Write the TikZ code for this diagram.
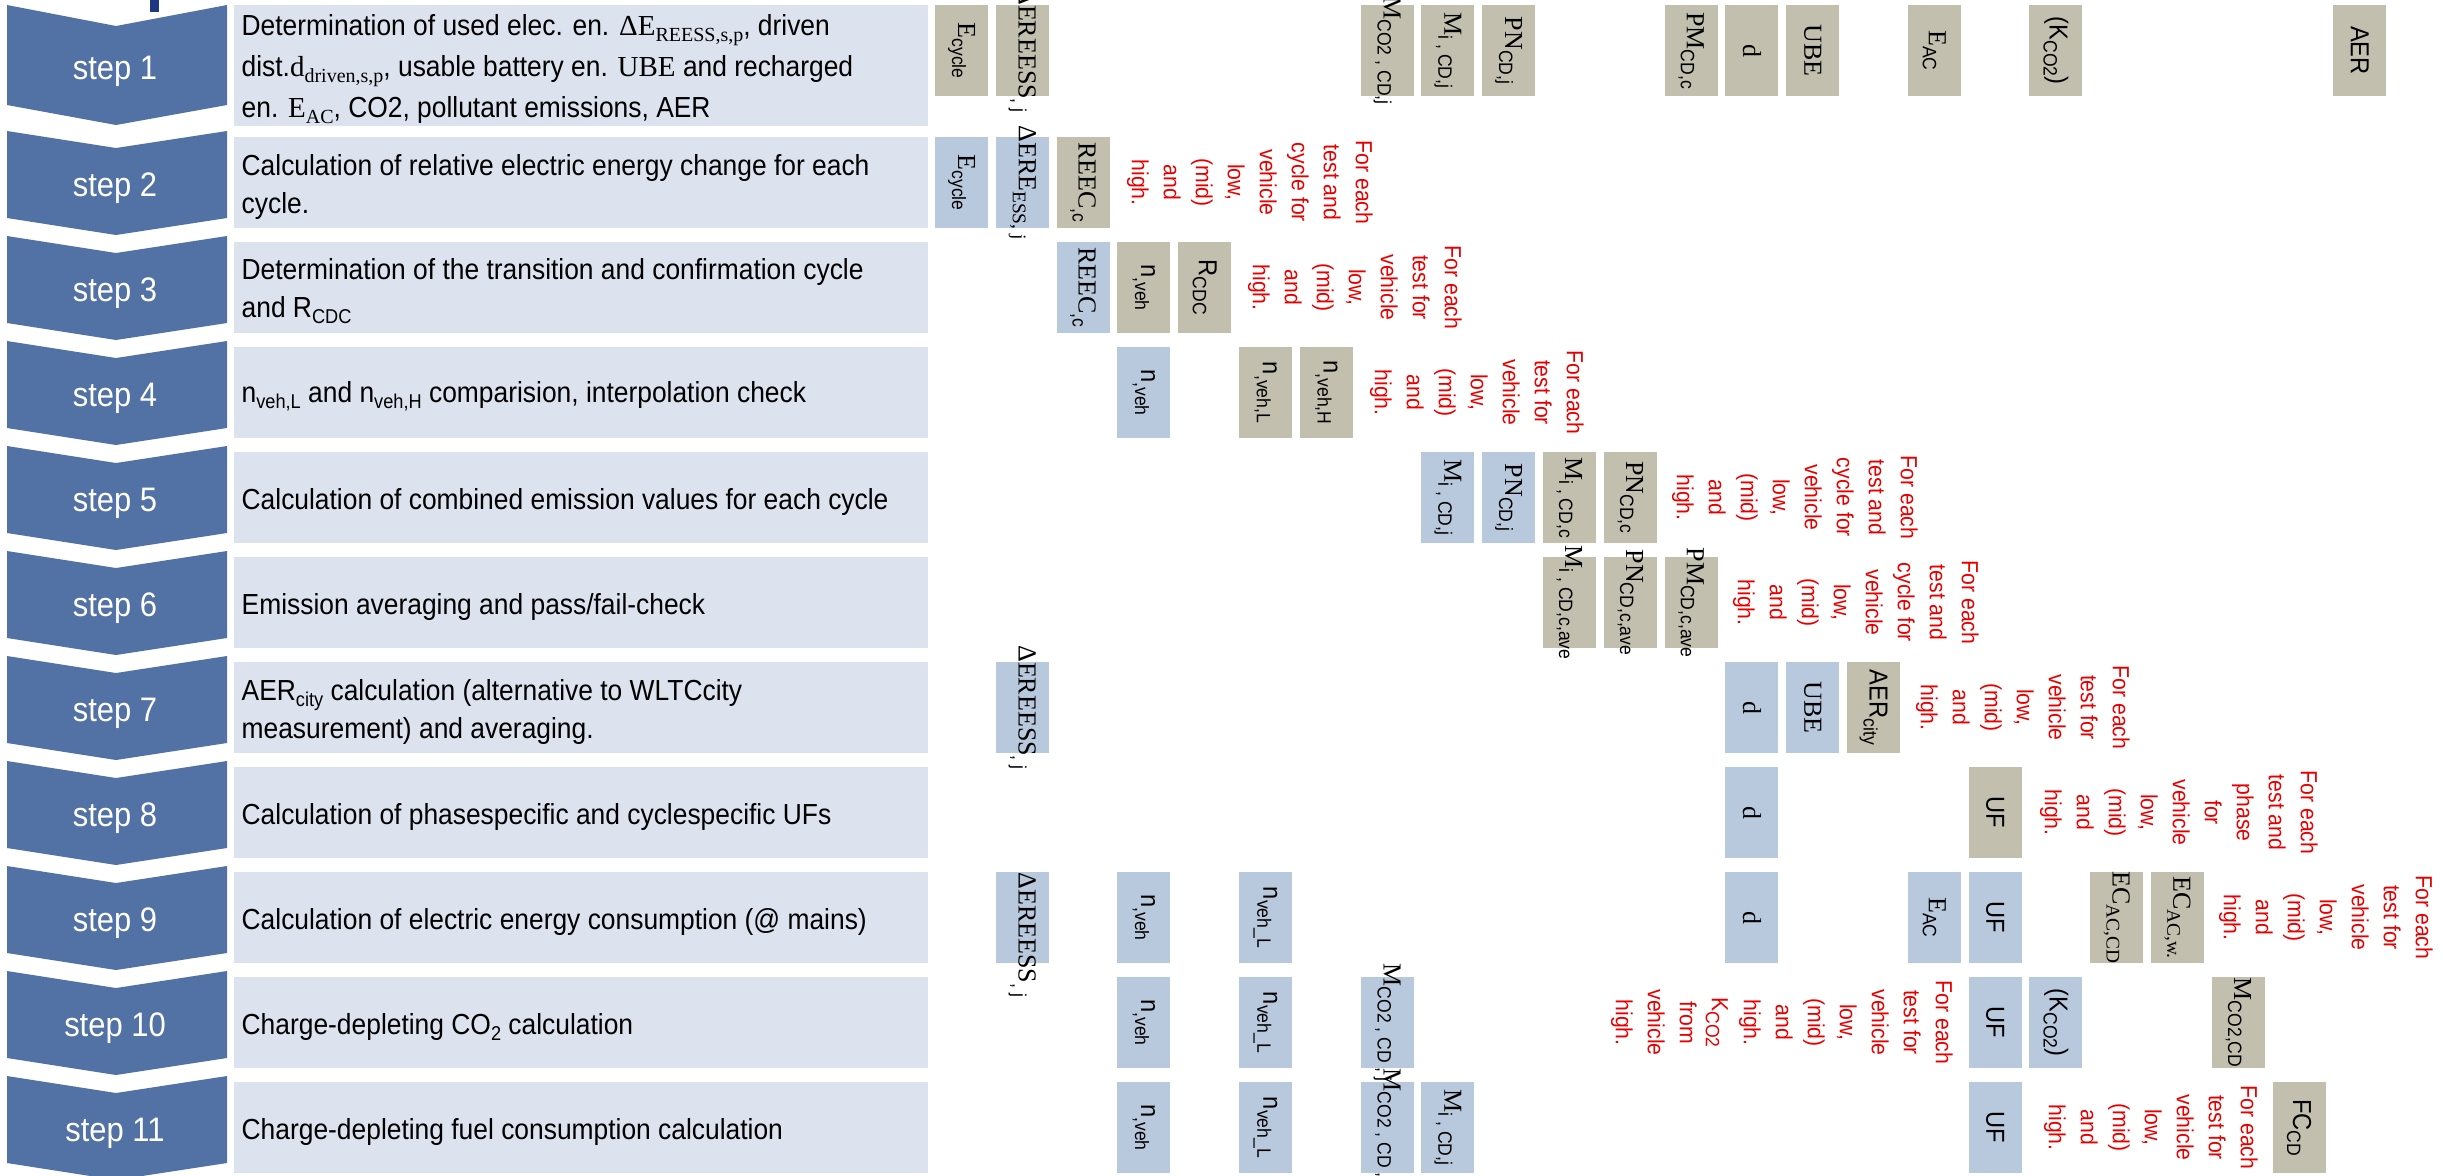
\documentclass[tikz,border=0pt]{standalone}
\usepackage{fontspec}
\setmainfont{Liberation Serif}
\newfontfamily\sansn[FakeStretch=0.91]{Liberation Sans}
\newfontfamily\serifn{Liberation Serif}
\definecolor{stepc}{RGB}{82,114,165}
\definecolor{rowc}{RGB}{220,227,238}
\definecolor{tanc}{RGB}{194,191,174}
\definecolor{bluec}{RGB}{185,201,221}
\definecolor{redc}{RGB}{232,0,0}
\definecolor{navyc}{RGB}{31,56,130}
\newcommand{\lsub}[1]{\raisebox{-1.8pt}{\fontsize{5.8}{5.8}\selectfont #1}}
\newcommand{\tsub}[1]{\raisebox{-1.8pt}{\fontsize{6}{6}\selectfont #1}}
\newcommand{\notecycle}{For each\\test and\\cycle for\\vehicle\\low,\\(mid)\\and\\high.}
\newcommand{\notetest}{For each\\test for\\vehicle\\low,\\(mid)\\and\\high.}
\newcommand{\putcell}[5]{%
  \node[#1] (#2) at ({961.5+60.8*#3},{ifthenelse(#4==1,50.5,182.5+105*(#4-2))}) {};
  \node[cellfont] (#2l) at (#2) {#5};}
\tikzset{
  boxcell/.style={minimum width=15.9pt,minimum height=27.3pt,inner sep=0pt,outer sep=0pt},
  tancell/.style={boxcell,fill=tanc},
  bluecell/.style={boxcell,fill=bluec},
  cellfont/.style={rotate=-90,inner sep=0pt,font=\sansn\fontsize{7.8}{7.8}\selectfont},
  rednote/.style={rotate=-90,inner sep=0pt,align=center,text=redc,font=\sansn\fontsize{7}{9.6}\selectfont},
  rowbox/.style={fill=rowc,minimum width=208.2pt,minimum height=27.3pt,inner sep=0pt},
  rowtext/.style={anchor=west,align=left,inner sep=0pt,yshift=-1.2pt,font=\sansn\fontsize{8.7}{11.4}\selectfont},
  steplabel/.style={anchor=base,text=white,inner sep=0pt,font=\sansn\fontsize{10.2}{10.2}\selectfont}
}

\begin{document}
\begin{tikzpicture}[x=0.3pt,y=-0.3pt]
\clip (0,0) rectangle (2443,1175);
\fill[white] (0,0) rectangle (2443,1175);
\fill[navyc] (150,0) rectangle (159,12);

\fill[stepc] (7,5) -- (116,26) -- (227,5) -- (227,105) -- (116,125) -- (7,105) -- cycle;
\foreach \r in {2,...,11}{
  \pgfmathsetmacro\T{131+105*(\r-2)}
  \fill[stepc] (7,\T) -- (116,\T+17) -- (227,\T) -- (227,\T+87) -- (116,\T+104) -- (7,\T+87) -- cycle;
}
\foreach \r in {1,...,11}{
  \pgfmathsetmacro\Y{ifthenelse(\r==1,65.5,182.5+105*(\r-2))+14}
  \node[steplabel] (s\r) at (115,\Y) {step \r};
}

\node[rowbox,minimum height=36.3pt] (b1) at (581,65.5) {};
\foreach \r in {2,...,11}
  \node[rowbox] (b\r) at (581,{182.5+105*(\r-2)}) {};

\node[rowtext,font=\sansn\fontsize{8.7}{12.3}\selectfont] (txt1) at (241,65.5) {Determination of used elec. en. {\serifn ΔE\tsub{REESS,s,p}}, driven\\dist.{\serifn d\tsub{driven,s,p}}, usable battery en. {\serifn UBE} and recharged\\en. {\serifn E\tsub{AC}}, CO2, pollutant emissions, AER};
\node[rowtext] (txt2) at (241,182.5) {Calculation of relative electric energy change for each\\cycle.};
\node[rowtext] (txt3) at (241,287.5) {Determination of the transition and confirmation cycle\\and R\tsub{CDC}};
\node[rowtext] (txt4) at (241,392.5) {n\tsub{veh,L} and n\tsub{veh,H} comparision, interpolation check};
\node[rowtext] (txt5) at (241,497.5) {Calculation of combined emission values for each cycle};
\node[rowtext] (txt6) at (241,602.5) {Emission averaging and pass/fail-check};
\node[rowtext] (txt7) at (241,707.5) {AER\tsub{city} calculation (alternative to WLTCcity\\measurement) and averaging.};
\node[rowtext] (txt8) at (241,812.5) {Calculation of phasespecific and cyclespecific UFs};
\node[rowtext] (txt9) at (241,917.5) {Calculation of electric energy consumption (@ mains)};
\node[rowtext] (txt10) at (241,1022.5) {Charge-depleting CO\tsub{2} calculation};
\node[rowtext] (txt11) at (241,1127.5) {Charge-depleting fuel consumption calculation};

\putcell{tancell}{ecyc1}{0}{1}{{\serifn E}\lsub{cycle}}
\putcell{tancell}{dee1}{1}{1}{{\serifn ΔEREESS}\lsub{, j}}
\putcell{tancell}{mco1}{7}{1}{{\serifn M}\lsub{CO2 , CD,j}}
\putcell{tancell}{mi1}{8}{1}{{\serifn M}\lsub{i , CD,j}}
\putcell{tancell}{pn1}{9}{1}{{\serifn PN}\lsub{CD,j}}
\putcell{tancell}{pm1}{12}{1}{{\serifn PM}\lsub{CD,c}}
\putcell{tancell}{d1}{13}{1}{{\serifn d}}
\putcell{tancell}{ube1}{14}{1}{{\serifn UBE}}
\putcell{tancell}{eac1}{16}{1}{{\serifn E}\lsub{AC}}
\putcell{tancell}{kco1}{18}{1}{(K\lsub{CO2})}
\putcell{tancell}{aer1}{23}{1}{AER}

\putcell{bluecell}{ecyc2}{0}{2}{{\serifn E}\lsub{cycle}}
\putcell{bluecell}{dee2}{1}{2}{{\serifn ΔERE\lsub{ESS, j}}}
\putcell{tancell}{reec2}{2}{2}{{\serifn REEC}\lsub{,c}}

\putcell{bluecell}{reec3}{2}{3}{{\serifn REEC}\lsub{,c}}
\putcell{tancell}{nveh3}{3}{3}{n\lsub{,veh}}
\putcell{tancell}{rcdc3}{4}{3}{R\lsub{CDC}}

\putcell{bluecell}{nveh4}{3}{4}{n\lsub{,veh}}
\putcell{tancell}{nvl4}{5}{4}{n\lsub{,veh,L}}
\putcell{tancell}{nvh4}{6}{4}{n\lsub{,veh,H}}

\putcell{bluecell}{mi5}{8}{5}{{\serifn M}\lsub{i , CD,j}}
\putcell{bluecell}{pn5}{9}{5}{{\serifn PN}\lsub{CD,j}}
\putcell{tancell}{mic5}{10}{5}{{\serifn M}\lsub{i , CD,c}}
\putcell{tancell}{pnc5}{11}{5}{{\serifn PN}\lsub{CD,c}}

\putcell{tancell}{mia6}{10}{6}{{\serifn M}\lsub{i , CD,c,ave}}
\putcell{tancell}{pna6}{11}{6}{{\serifn PN}\lsub{CD,c,ave}}
\putcell{tancell}{pma6}{12}{6}{{\serifn PM}\lsub{CD,c,ave}}

\putcell{bluecell}{dee7}{1}{7}{{\serifn ΔEREESS}\lsub{, j}}
\putcell{bluecell}{d7}{13}{7}{{\serifn d}}
\putcell{bluecell}{ube7}{14}{7}{{\serifn UBE}}
\putcell{tancell}{aerc7}{15}{7}{AER\lsub{city}}

\putcell{bluecell}{d8}{13}{8}{{\serifn d}}
\putcell{tancell}{uf8}{17}{8}{UF}

\node[bluecell] (dee9) at ({961.5+60.8},917.5) {};
\node[cellfont,anchor=west] (dee9l) at (dee9.north) {{\serifn ΔEREESS}\lsub{, j}};
\putcell{bluecell}{nveh9}{3}{9}{n\lsub{,veh}}
\putcell{bluecell}{nvl9}{5}{9}{n\lsub{veh\_L}}
\putcell{bluecell}{d9}{13}{9}{{\serifn d}}
\putcell{bluecell}{eac9}{16}{9}{{\serifn E}\lsub{AC}}
\putcell{bluecell}{uf9}{17}{9}{UF}
\putcell{tancell}{ecc9}{19}{9}{{\serifn EC\lsub{AC,CD}}}
\putcell{tancell}{ecw9}{20}{9}{{\serifn EC\lsub{AC,w.}}}

\putcell{bluecell}{nveh10}{3}{10}{n\lsub{,veh}}
\putcell{bluecell}{nvl10}{5}{10}{n\lsub{veh\_L}}
\putcell{bluecell}{mco10}{7}{10}{{\serifn M}\lsub{CO2 , CD , j}}
\putcell{bluecell}{uf10}{17}{10}{UF}
\putcell{bluecell}{kco10}{18}{10}{(K\lsub{CO2})}
\putcell{tancell}{mcd10}{21}{10}{{\serifn M}\lsub{CO2,CD}}

\putcell{bluecell}{nveh11}{3}{11}{n\lsub{,veh}}
\putcell{bluecell}{nvl11}{5}{11}{n\lsub{veh\_L}}
\putcell{bluecell}{mco11}{7}{11}{{\serifn M}\lsub{CO2 , CD , j}}
\putcell{bluecell}{mi11}{8}{11}{{\serifn M}\lsub{i , CD,j}}
\putcell{bluecell}{uf11}{17}{11}{UF}
\putcell{tancell}{fc11}{22}{11}{FC\lsub{CD}}

\node[rednote] (n2) at (1250,182.5) {\notecycle};
\node[rednote] (n3) at (1355,287.5) {\notetest};
\node[rednote] (n4) at (1477,392.5) {\notetest};
\node[rednote] (n5) at (1795,497.5) {\notecycle};
\node[rednote] (n6) at (1856,602.5) {\notecycle};
\node[rednote] (n7) at (2023,707.5) {\notetest};
\node[rednote] (n8) at (2179,812.5) {For each\\test and\\phase\\for\\vehicle\\low,\\(mid)\\and\\high.};
\node[rednote] (n9) at (2326,917.5) {\notetest};
\node[rednote] (n10) at (1782,1022.5) {\notetest\\K\lsub{CO2}\\from\\vehicle\\high.};
\node[rednote] (n11) at (2151,1127.5) {\notetest};
\end{tikzpicture}
\end{document}
